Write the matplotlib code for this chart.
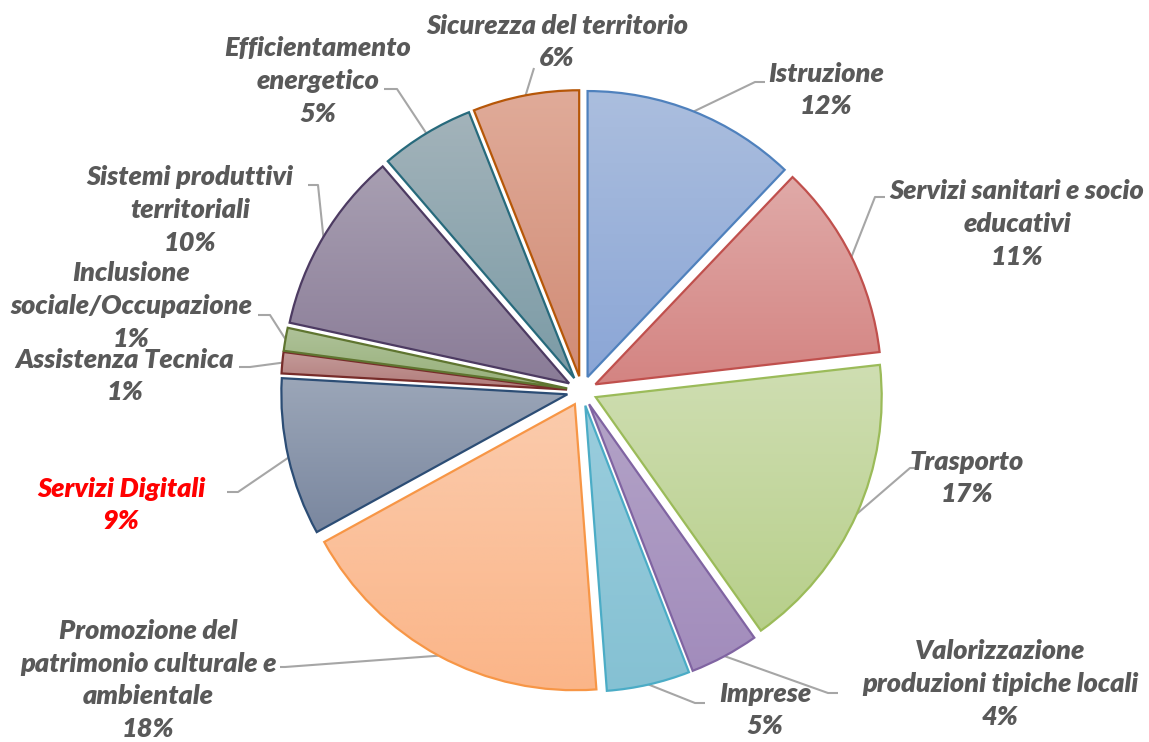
import numpy as np
import matplotlib
matplotlib.use("Agg")
from matplotlib import pyplot as plt
from matplotlib.colors import to_rgb

# shares of the chart, clockwise from 12 o'clock
categories = ["Istruzione", "Servizi sanitari e socio educativi", "Trasporto",
              "Valorizzazione produzioni tipiche locali", "Imprese",
              "Promozione del patrimonio culturale e ambientale", "Servizi Digitali",
              "Assistenza Tecnica", "Inclusione sociale/Occupazione",
              "Sistemi produttivi territoriali", "Efficientamento energetico",
              "Sicurezza del territorio"]
values = [12.1, 11.1, 17.0, 3.9, 4.7, 18.2, 8.9, 1.2, 1.3, 10.3, 5.3, 6.0]
label_names = ["Istruzione", "Servizi sanitari e socio\neducativi", "Trasporto",
               "Valorizzazione\nproduzioni tipiche locali", "Imprese",
               "Promozione del\npatrimonio culturale e\nambientale", "Servizi Digitali",
               "Assistenza Tecnica", "Inclusione\nsociale/Occupazione",
               "Sistemi produttivi\nterritoriali", "Efficientamento\nenergetico",
               "Sicurezza del territorio"]

W, H = 1149, 742
edge_colors = ["#4F81BD", "#C0504D", "#9BBB59", "#8064A2", "#4BACC6", "#F79646",
               "#2C4D75", "#772C2A", "#5F7530", "#4D3B62", "#276A7C", "#B65708"]
top_colors = ["#ABBEDE", "#E0AAA8", "#CFDEB2", "#B3A3C7", "#9ACDDD", "#FBCBAC",
              "#9BA6B8", "#C49A99", "#AFC299", "#A89FB2", "#A3B3BA", "#E0AB99"]
bot_colors = ["#8BA6D6", "#D48482", "#B7CF8A", "#A28CBC", "#85C1D3", "#FBB588",
              "#7A879F", "#B07B79", "#97B07A", "#8A7C97", "#7B9BA6", "#D18C76"]

fig = plt.figure(figsize=(W / 100, H / 100), dpi=100)
ax = fig.add_axes([0, 0, 1, 1])

cx, cy, r, gap = 582, H - 391, 286, 15
# explode is in data units here (radius is not 1)
wedges, _ = ax.pie(values, startangle=90, counterclock=False, radius=r,
                   center=(cx, cy), explode=[gap] * len(values),
                   wedgeprops=dict(linewidth=1.6), frame=False)

for i, w in enumerate(wedges):
    w.set_facecolor("none")
    w.set_edgecolor(edge_colors[i])
    w.set_zorder(3)
    ext = w.get_path().get_extents()
    t = np.linspace(0, 1, 256)[:, None, None]
    grad = (1 - t) * np.array(to_rgb(top_colors[i])) + t * np.array(to_rgb(bot_colors[i]))
    im = ax.imshow(grad, extent=(ext.x0, ext.x1, ext.y0, ext.y1), origin="upper",
                   aspect="auto", interpolation="bilinear", zorder=2)
    im.set_clip_path(w)

# label centres and leader-line elbows (image pixel coords)
label_pos = [(826, 90), (1017, 224), (967, 478), (1000, 684), (765, 710),
             (148, 680), (121, 505), (125, 376), (131, 306), (190, 210),
             (318, 81), (557, 42)]
elbows = [[(755, 82), (765, 82)], [(875, 197), (885, 197)], [(910, 468), (918, 468)],
          [(828, 693), (838, 693)], [(695, 703), (705, 703)], [(285, 667), (280, 667)],
          [(238, 492), (227, 492)], [(250, 367), (239, 367)], [(270, 315), (258, 315)],
          [(318, 185), (308, 185)], [(397, 89), (384, 89)], [(534, 68), (534, 68)]]

total = sum(values)
cum = 0
for i, v in enumerate(values):
    mid = np.deg2rad((cum + v / 2) / total * 360)
    cum += v
    ax_x = cx + (r + gap) * np.sin(mid)
    ax_y = cy + (r + gap) * np.cos(mid)
    xs = [ax_x] + [p[0] for p in elbows[i]]
    ys = [ax_y] + [H - p[1] for p in elbows[i]]
    ax.plot(xs, ys, color="#A6A6A6", lw=1.5, zorder=1, solid_capstyle="butt")
    color = "#FF0000" if categories[i] == "Servizi Digitali" else "#595959"
    ax.text(label_pos[i][0], H - label_pos[i][1], "%s\n%d%%" % (label_names[i], round(v)),
            ha="center", va="center", multialignment="center", fontsize=19.5,
            fontweight="heavy", fontstyle="italic", family="Lato", color=color,
            linespacing=1.43, zorder=4)

ax.set_xlim(0, W)
ax.set_ylim(0, H)
ax.set_aspect("equal")
ax.axis("off")
fig.savefig("out.png", dpi=100)
